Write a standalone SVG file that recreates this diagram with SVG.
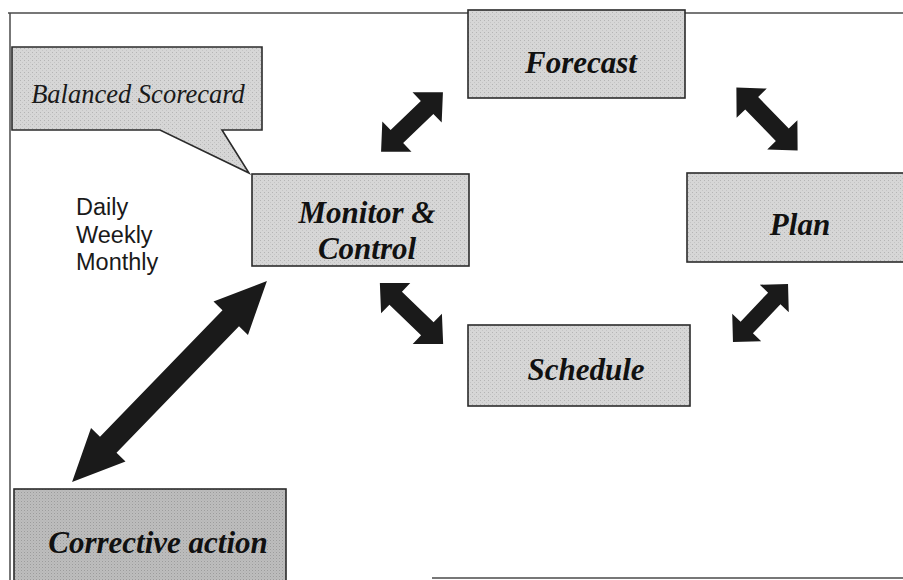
<svg xmlns="http://www.w3.org/2000/svg" width="903" height="580" viewBox="0 0 903 580">
  <defs>
    <!-- halftone-like grey fill for the process boxes -->
    <pattern id="dots" width="4" height="4" patternUnits="userSpaceOnUse">
      <rect width="4" height="4" fill="#d6d6d6"/>
      <rect x="0" y="0" width="1" height="1" fill="#b4b4b4"/>
      <rect x="2" y="2" width="1" height="1" fill="#c4c4c4"/>
    </pattern>
    <pattern id="dotsDark" width="3" height="3" patternUnits="userSpaceOnUse">
      <rect width="3" height="3" fill="#bdbdbd"/>
      <rect x="0" y="0" width="1" height="1" fill="#9c9c9c"/>
      <rect x="1.5" y="1.5" width="1" height="1" fill="#acacac"/>
    </pattern>
    <style>
      .frame { stroke: #4a4a4a; stroke-width: 1.5; fill: none; }
      .box { fill: url(#dots); stroke: #2b2b2b; stroke-width: 1.6; }
      .boxDark { fill: url(#dotsDark); stroke: #2b2b2b; stroke-width: 1.6; }
      .label { font-family: "Liberation Serif", "Times New Roman", serif; font-style: italic; font-weight: bold; font-size: 31px; fill: #111; text-anchor: middle; }
      .callout { font-family: "Liberation Serif", "Times New Roman", serif; font-style: italic; font-size: 26.5px; fill: #1a1a1a; text-anchor: middle; }
      .freq { font-family: "Liberation Sans", Arial, sans-serif; font-size: 23.5px; fill: #1a1a1a; }
      .arrow { fill: #1a1a1a; }
    </style>
  </defs>

  <rect width="903" height="580" fill="#ffffff"/>

  <!-- page frame -->
  <g id="frame">
    <line class="frame" x1="8" y1="13" x2="903" y2="13"/>
    <line class="frame" x1="10" y1="13" x2="10" y2="580"/>
    <line class="frame" x1="432" y1="578" x2="903" y2="578"/>
  </g>

  <!-- callout -->
  <g id="balanced-scorecard">
    <path class="box" d="M12,47 H262 V130 H222 L249,173 L160,130 H12 Z"/>
    <text class="callout" x="138" y="103">Balanced Scorecard</text>
  </g>

  <g id="frequency">
    <text class="freq" x="76" y="215">Daily</text>
    <text class="freq" x="76" y="243">Weekly</text>
    <text class="freq" x="76" y="270">Monthly</text>
  </g>

  <g id="forecast">
    <rect class="box" x="468" y="10" width="217" height="88"/>
    <text class="label" x="581" y="73">Forecast</text>
  </g>

  <g id="monitor-control">
    <rect class="box" x="252" y="174" width="217" height="92"/>
    <text class="label" x="367" y="223">Monitor &amp;</text>
    <text class="label" x="367" y="259">Control</text>
  </g>

  <g id="plan">
    <rect class="box" x="687" y="173" width="220" height="89"/>
    <text class="label" x="800" y="235">Plan</text>
  </g>

  <g id="schedule">
    <rect class="box" x="468" y="325" width="222" height="81"/>
    <text class="label" x="586" y="380">Schedule</text>
  </g>

  <g id="corrective-action">
    <rect class="boxDark" x="14" y="489" width="272" height="95"/>
    <text class="label" x="158" y="553">Corrective action</text>
  </g>

  <!-- double-headed block arrows -->
  <g id="connectors">
    <!-- Monitor & Control <-> Forecast -->
    <polygon class="arrow" transform="translate(412,122) rotate(-44)"
      points="-43,0 -21,-21 -21,-9 21,-9 21,-21 43,0 21,21 21,9 -21,9 -21,21"/>
    <!-- Forecast <-> Plan -->
    <polygon class="arrow" transform="translate(767,119) rotate(45.9)"
      points="-44,0 -22,-21 -22,-9 22,-9 22,-21 44,0 22,21 22,9 -22,9 -22,21"/>
    <!-- Monitor & Control <-> Schedule -->
    <polygon class="arrow" transform="translate(411.5,313.5) rotate(44)"
      points="-44,0 -22,-21 -22,-9 22,-9 22,-21 44,0 22,21 22,9 -22,9 -22,21"/>
    <!-- Plan <-> Schedule -->
    <polygon class="arrow" transform="translate(760.5,313) rotate(-46.5)"
      points="-40,0 -20,-20 -20,-8.5 20,-8.5 20,-20 40,0 20,20 20,8.5 -20,8.5 -20,20"/>
    <!-- Monitor & Control <-> Corrective action -->
    <polygon class="arrow" transform="translate(169.5,381.5) rotate(-45.9)"
      points="-140,0 -88,-24 -88,-11.5 88,-11.5 88,-24 140,0 88,24 88,11.5 -88,11.5 -88,24"/>
  </g>
</svg>
